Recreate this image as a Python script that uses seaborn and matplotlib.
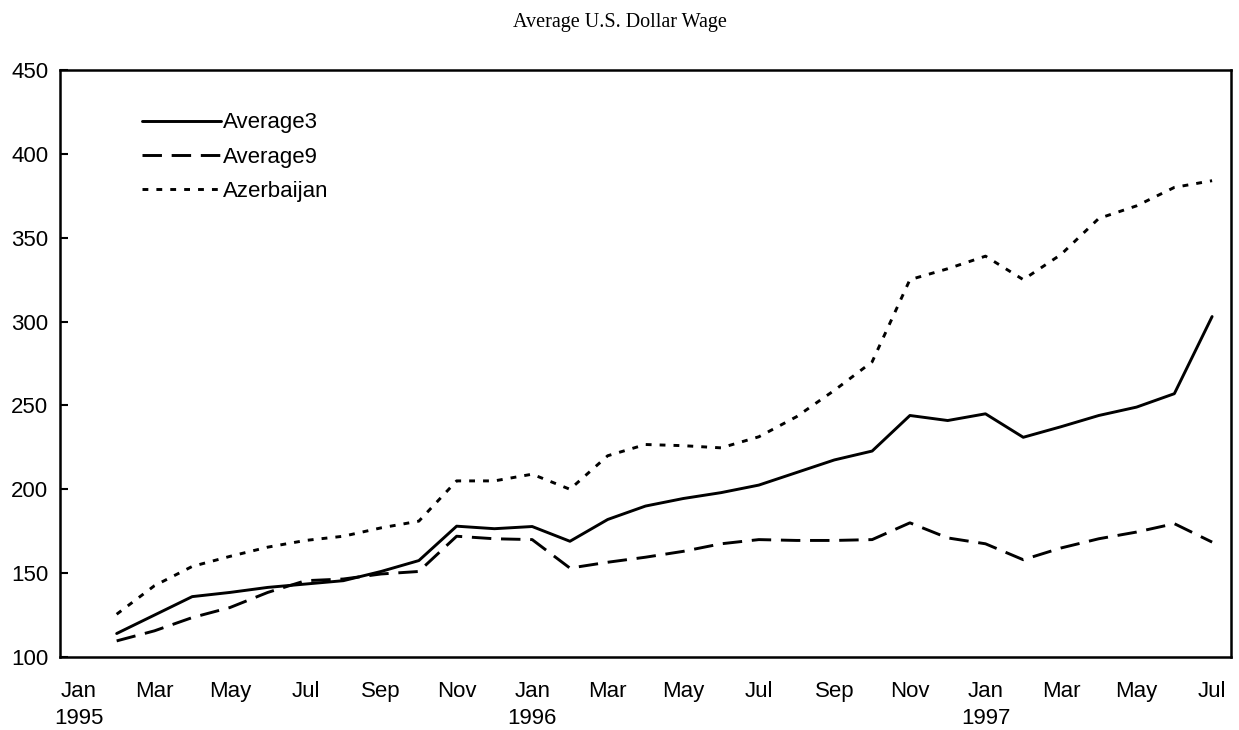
import numpy as np
import pandas as pd
import matplotlib
matplotlib.use("Agg")
import matplotlib.pyplot as plt
import seaborn as sns

# ---- data ----
month_names = ["Jan", "Feb", "Mar", "Apr", "May", "Jun", "Jul", "Aug", "Sep", "Oct", "Nov", "Dec"] * 3
month_names = month_names[:31]  # Jan 1995 .. Jul 1997
year_labels = {0: "1995", 12: "1996", 24: "1997"}

average3 = [None, 114, 125, 136, 138.5, 141.5, 143.5, 145.5, 151, 157.5, 178,
            176.5, 177.8, 169, 182, 190, 194.5, 198, 202.5, 210, 217.5,
            222.8, 244, 241, 245, 231, 237.3, 244, 249, 257, 303]
average9 = [None, 109.6, 115.6, 123.5, 129.5, 138.5, 145.5, 146.5, 149.5, 151, 172,
            170.5, 170, 153, 156.5, 159.5, 163, 167.5, 170, 169.5, 169.5,
            170, 180, 171, 167.5, 158, 165, 170.5, 174.5, 179.5, 168.5]
azerbaijan = [None, 125.5, 142.5, 154, 160, 165.5, 169.5, 172, 177, 181, 205,
              205, 209, 200, 220, 226.7, 226, 224.7, 231.3, 243.3, 259,
              276, 325, 331.5, 339, 325, 340, 361.5, 369, 380, 384]

series = {"Average3": average3, "Average9": average9, "Azerbaijan": azerbaijan}

sns.set_theme(style="white")
plt.rcParams["font.family"] = ["Liberation Sans", "DejaVu Sans"]
plt.rcParams["lines.scale_dashes"] = False
plt.rcParams["text.color"] = "black"
plt.rcParams["xtick.color"] = "black"
plt.rcParams["ytick.color"] = "black"
plt.rcParams["xtick.labelcolor"] = "black"
plt.rcParams["ytick.labelcolor"] = "black"

FS = 16

fig = plt.figure(figsize=(12.39, 7.30), dpi=100)
ax = fig.add_axes([60 / 1239, 1 - 657 / 730, 1171 / 1239, 587 / 730])

styles = {
    "Average3": dict(linestyle="-"),
    "Average9": dict(linestyle=(0, (14, 7))),
    "Azerbaijan": dict(linestyle=(0, (4.2, 5.8))),
}

pos = np.arange(len(month_names))
for name, vals in series.items():
    df = pd.DataFrame({"pos": pos, "value": pd.to_numeric(pd.Series(vals), errors="coerce")}).dropna()
    sns.lineplot(data=df, x="pos", y="value", ax=ax, color="black", linewidth=2.1,
                 label=name, **styles[name])

ax.set_xlim(-0.5, len(month_names) - 0.5)
ax.set_ylim(100, 450)
ax.set_yticks(np.arange(100, 451, 50))

# category labels at centres, tick marks at boundaries
label_pos = pos[::2]
labels = []
for p in label_pos:
    lab = month_names[p]
    if p in year_labels:
        lab = lab + "\n" + year_labels[p]
    labels.append(lab)
ax.set_xticks(label_pos)
ax.set_xticklabels(labels, fontsize=FS, linespacing=1.38, va="top", color="black")
ax.tick_params(axis="x", which="major", length=0, pad=17)
ax.set_xticks(np.arange(0.5, len(month_names) - 0.5, 1), minor=True)
ax.tick_params(axis="x", which="minor", direction="in", length=6, width=1.5, color="black")
ax.tick_params(axis="y", direction="in", length=6, width=1.5, color="black",
               labelsize=FS, pad=8.5, left=True, labelcolor="black")

ax.set_xlabel("")
ax.set_ylabel("")
for sp in ax.spines.values():
    sp.set_visible(True)
    sp.set_color("black")
    sp.set_linewidth(1.8)

leg = ax.legend(loc="upper left", bbox_to_anchor=(0.053, 0.962), frameon=False,
                fontsize=FS, handlelength=3.55, handletextpad=0.1, labelspacing=0.6)
for t in leg.get_texts():
    t.set_color("black")

fig.text(0.5, 1 - 22 / 730, "Average U.S. Dollar Wage", ha="center", va="center",
         fontsize=14.5, color="black", family=["Liberation Serif", "DejaVu Serif"])

fig.savefig("out.png", dpi=100, facecolor="white")
